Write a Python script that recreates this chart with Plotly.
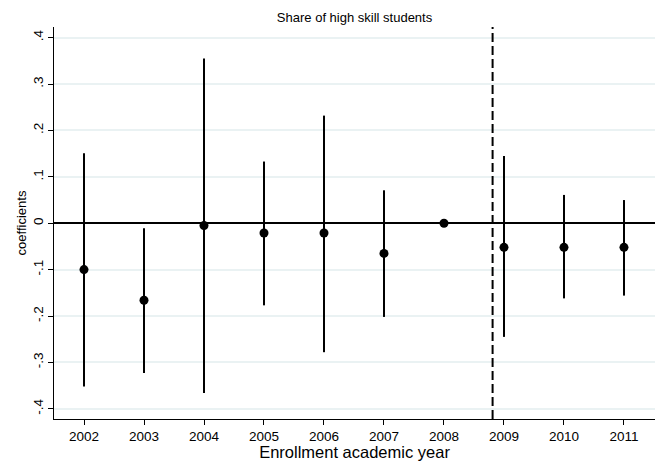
import plotly.graph_objects as go

years = [2002, 2003, 2004, 2005, 2006, 2007, 2008, 2009, 2010, 2011]
coef = [-0.100, -0.166, -0.005, -0.021, -0.021, -0.065, 0.0, -0.052, -0.052, -0.052]
upper = [0.151, -0.011, 0.355, 0.133, 0.232, 0.071, 0.0, 0.145, 0.061, 0.050]
lower = [-0.352, -0.323, -0.366, -0.177, -0.278, -0.202, 0.0, -0.245, -0.162, -0.156]
ytick_vals = [0.4, 0.3, 0.2, 0.1, 0.0, -0.1, -0.2, -0.3, -0.4]
ytick_text = [".4", ".3", ".2", ".1", "0", "-.1", "-.2", "-.3", "-.4"]
cutoff = 2008.81

font = "Liberation Sans"

fig = go.Figure()
fig.add_trace(go.Scatter(
    x=years, y=coef, mode="markers",
    marker=dict(color="black", size=9),
    error_y=dict(type="data", symmetric=False,
                 array=[u - c for u, c in zip(upper, coef)],
                 arrayminus=[c - l for c, l in zip(coef, lower)],
                 width=0, thickness=2, color="black"),
    showlegend=False, cliponaxis=False, hoverinfo="skip",
))

fig.add_shape(type="line", xref="x", yref="paper", x0=cutoff, x1=cutoff, y0=0, y1=1,
              line=dict(color="black", width=2, dash="9px,4px"))

fig.update_layout(
    width=659, height=461,
    margin=dict(l=54, r=4, t=27, b=42),
    paper_bgcolor="white", plot_bgcolor="white",
    font=dict(family=font, color="black", size=13),
    title=dict(text="Share of high skill students", x=0.538, xanchor="center",
               y=0.963, yanchor="middle", font=dict(size=13, family=font)),
    xaxis=dict(range=[2001.5, 2011.517], tickvals=years, ticktext=[str(y) for y in years],
               ticks="outside", ticklen=5, tickcolor="black", showgrid=False,
               showline=True, linecolor="black", linewidth=1, zeroline=False,
               automargin=False,
               tickfont=dict(size=13.5), title=dict(text="Enrollment academic year",
                                                    font=dict(size=16.5), standoff=1)),
    yaxis=dict(range=[-0.422, 0.423], tickvals=ytick_vals, ticktext=ytick_text,
               tickangle=-90, ticks="outside", ticklen=5, tickcolor="black",
               showgrid=True, gridcolor="#EAF2F3", gridwidth=1.5,
               showline=True, linecolor="black", linewidth=1,
               zeroline=True, zerolinecolor="black", zerolinewidth=2,
               automargin=False,
               tickfont=dict(size=13.5), title=dict(text="coefficients",
                                                    font=dict(size=13), standoff=1)),
)

fig.write_html("out.html", config={"displayModeBar": False},
               post_script="document.body.style.margin='0';document.body.style.overflow='hidden';")
